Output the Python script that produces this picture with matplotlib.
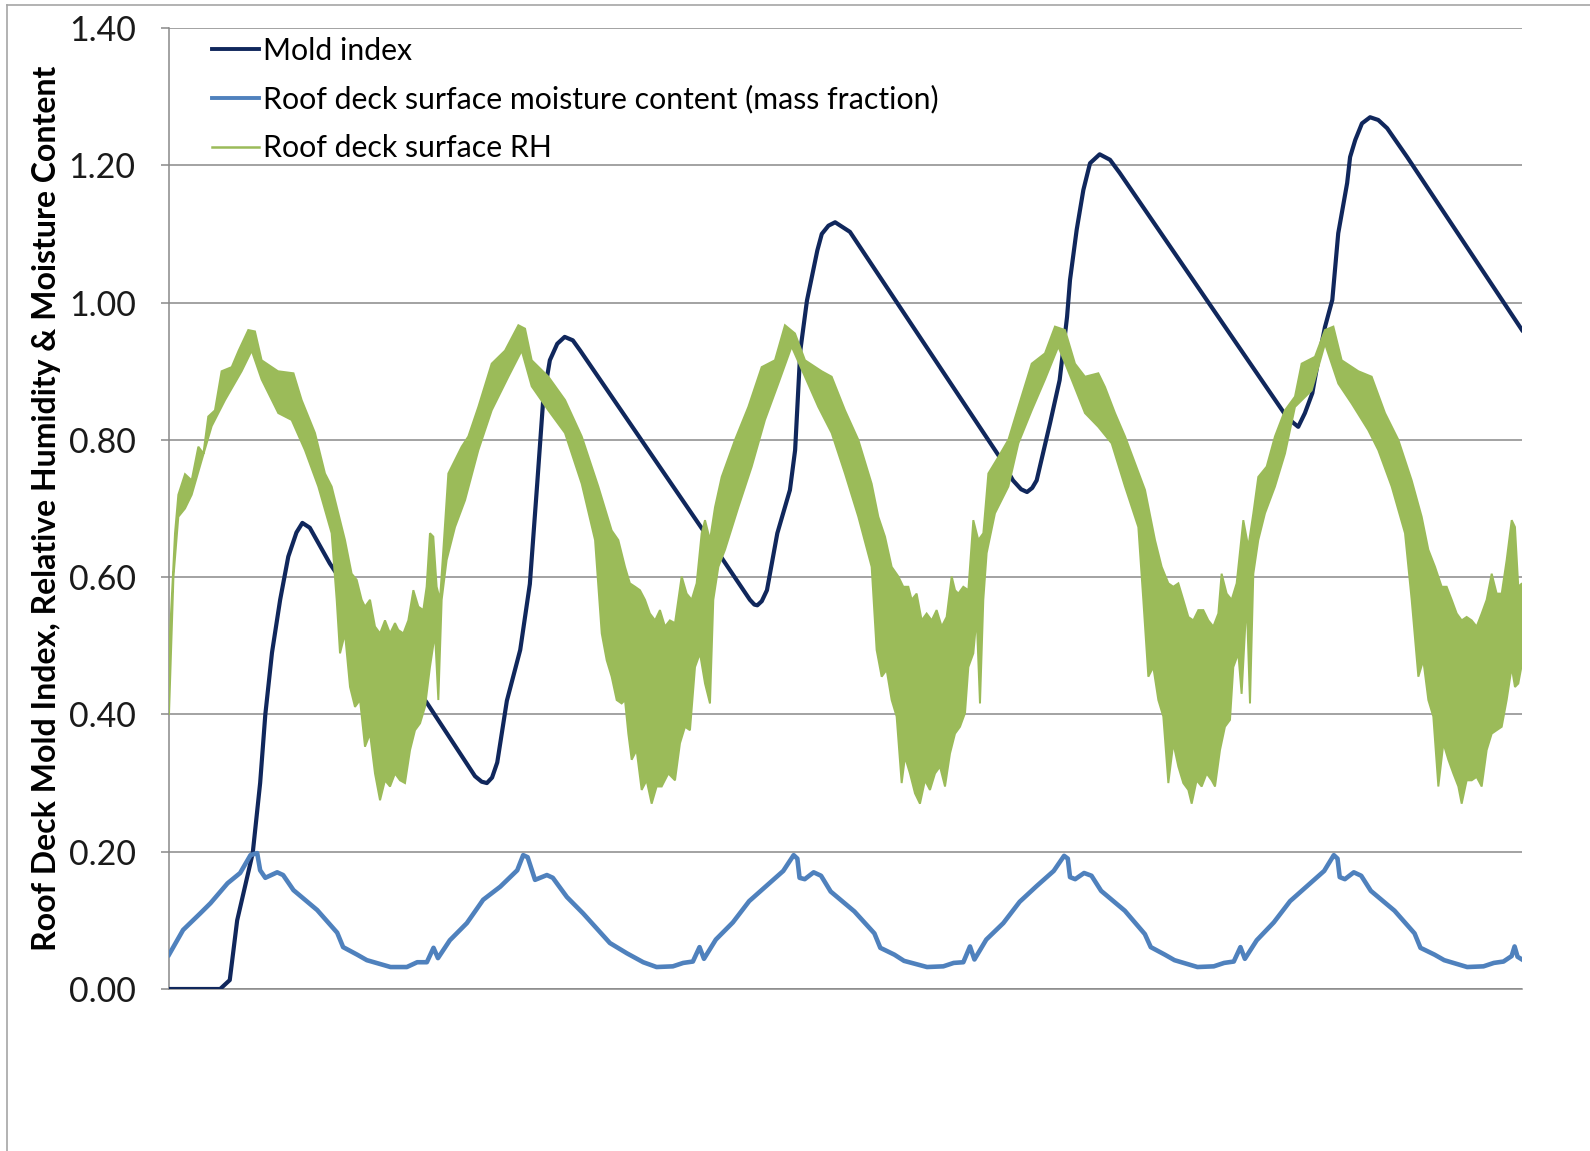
import matplotlib
matplotlib.use("Agg")
import matplotlib.pyplot as plt
from matplotlib.lines import Line2D

plt.rcParams['font.family'] = ['Lato', 'DejaVu Sans']

# x axis: days over five simulated years
mold_day = [0, 69, 82, 92, 113, 123, 130, 139, 150, 161, 172, 180, 190, 217, 262, 285, 348, 413, 422, 429,
            436, 443, 456, 474, 487, 497, 505, 514, 524, 534, 545, 555, 721, 784, 790, 794, 800, 807, 821,
            838, 845, 852, 861, 875, 881, 890, 899, 919, 1121, 1139, 1150, 1158, 1165, 1171, 1189, 1202,
            1212, 1216, 1225, 1234, 1243, 1256, 1270, 1283, 1505, 1516, 1524, 1533, 1543, 1551, 1560, 1570,
            1578, 1590, 1594, 1601, 1610, 1621, 1632, 1644, 1671, 1826]
mold_val = [0, 0, 0.013, 0.10, 0.198, 0.30, 0.40, 0.49, 0.567, 0.63, 0.665, 0.679, 0.672, 0.62, 0.547, 0.508,
            0.417, 0.31, 0.302, 0.30, 0.308, 0.33, 0.42, 0.494, 0.59, 0.737, 0.858, 0.916, 0.94, 0.95, 0.945,
            0.93, 0.668, 0.567, 0.56, 0.559, 0.565, 0.581, 0.664, 0.727, 0.785, 0.93, 1.003, 1.076, 1.10,
            1.112, 1.117, 1.103, 0.775, 0.741, 0.728, 0.724, 0.73, 0.741, 0.824, 0.887,
            0.979, 1.033, 1.106, 1.164, 1.203, 1.216, 1.208, 1.189, 0.839, 0.826, 0.819, 0.839, 0.868, 0.916,
            0.964, 1.004, 1.101, 1.174, 1.212, 1.237, 1.261, 1.27, 1.266, 1.254, 1.212, 0.96]

moist_day = [0, 19, 42, 56, 79, 96, 110, 119, 123, 130, 146, 154, 168, 200, 227, 235, 254, 267, 299, 321,
             335, 348, 357, 363, 379, 402, 424, 447, 470, 478,
             484, 494, 510, 518, 537, 559, 595, 618, 640, 658, 680, 694, 707, 716, 722, 738, 761, 783, 806,
             829, 843,
             848, 851, 858, 870, 880, 893, 925, 952, 960, 979, 992, 1023, 1045, 1059, 1072, 1081, 1087, 1103,
             1126, 1148, 1171, 1194, 1208,
             1213, 1216, 1223, 1235, 1245, 1258, 1290, 1317, 1325, 1344, 1357, 1388, 1410, 1424, 1437, 1446,
             1452, 1468, 1491, 1513, 1536, 1559, 1572,
             1577, 1580, 1587, 1599, 1609, 1622, 1654, 1681, 1689, 1708, 1721, 1752, 1774, 1788, 1801, 1812,
             1816, 1820, 1826]
moist_val = [0.05, 0.086, 0.11, 0.125, 0.154, 0.169, 0.195, 0.198, 0.173, 0.162, 0.17, 0.166, 0.144, 0.115,
             0.082, 0.061, 0.05, 0.042, 0.032, 0.032, 0.039, 0.039, 0.06, 0.045, 0.071, 0.096, 0.13, 0.149,
             0.173, 0.195,
             0.192, 0.159, 0.166, 0.162, 0.134, 0.11, 0.067, 0.052, 0.039, 0.032, 0.033, 0.038, 0.04, 0.061,
             0.044, 0.072, 0.097, 0.128, 0.15, 0.172, 0.195,
             0.19, 0.162, 0.16, 0.17, 0.165, 0.142, 0.113, 0.081, 0.06, 0.05, 0.041, 0.032, 0.033, 0.038,
             0.039, 0.062, 0.043, 0.072, 0.096, 0.127, 0.15, 0.172, 0.194,
             0.19, 0.163, 0.16, 0.169, 0.165, 0.143, 0.114, 0.08, 0.061, 0.05, 0.042, 0.032, 0.033, 0.038,
             0.04, 0.061, 0.044, 0.071, 0.097, 0.128, 0.15, 0.172, 0.195,
             0.19, 0.163, 0.16, 0.17, 0.165, 0.143, 0.114, 0.081, 0.06, 0.05, 0.042, 0.032, 0.033, 0.038,
             0.04, 0.048, 0.062, 0.047, 0.043]

# RH is hourly and noisy: (day, value) points on the upper and lower edge of the band
rh_upper = [
    (0, 0.45), (1.4, 0.52), (3.6, 0.566), (8.1, 0.664), (12.6, 0.72), (21.6, 0.75), (30.6, 0.741),
    (39.6, 0.79), (46.4, 0.78), (53, 0.834), (62, 0.843), (71, 0.90), (84.6, 0.906), (94, 0.93),
    (107, 0.96), (116, 0.958), (125, 0.916), (147, 0.90), (168, 0.897), (179, 0.858), (197, 0.81),
    (210.5, 0.751), (219.5, 0.732), (228.5, 0.693), (237.5, 0.654), (246.5, 0.605), (253.3, 0.596),
    (260, 0.567), (264.5, 0.557), (271.3, 0.567), (278, 0.528), (284.8, 0.518), (291.5, 0.537),
    (298.3, 0.518), (305, 0.533), (309.5, 0.523), (316.3, 0.518), (323, 0.537), (329.8, 0.581),
    (336.5, 0.557), (343.2, 0.552), (347.7, 0.586), (352.2, 0.664), (356.7, 0.659), (361.2, 0.586),
    (365.7, 0.567), (370.2, 0.639), (377, 0.751), (395, 0.79), (404, 0.805), (417.5, 0.848),
    (435.5, 0.911), (453.5, 0.93), (471.5, 0.967), (480.5, 0.962), (489.5, 0.916), (512, 0.892),
    (534.5, 0.858), (557, 0.805), (579.4, 0.732), (588.4, 0.70), (597.4, 0.668), (606.4, 0.654),
    (615.4, 0.615), (622, 0.591), (629, 0.586), (635.6, 0.581), (642.4, 0.567), (649, 0.547),
    (656, 0.537), (662.6, 0.552), (669.4, 0.528), (676, 0.537), (682.9, 0.533), (691.9, 0.601),
    (698.6, 0.576), (705.4, 0.567), (712.1, 0.591), (718.9, 0.664), (723.4, 0.683), (730.1, 0.654),
    (736.9, 0.702), (745.9, 0.746), (763.9, 0.80), (781.9, 0.848), (799.9, 0.906), (817.8, 0.916),
    (831.3, 0.967), (844.8, 0.955), (858.3, 0.916), (880.8, 0.90), (894.3, 0.892), (912.3, 0.843),
    (930.3, 0.80), (948.3, 0.736), (957.3, 0.688), (966.3, 0.659), (975.3, 0.615), (984.3, 0.601),
    (991, 0.586), (997.8, 0.586), (1002.3, 0.567), (1009, 0.576), (1015.8, 0.537), (1022.5, 0.547),
    (1029.3, 0.537), (1036, 0.552), (1042.8, 0.528), (1049.5, 0.542), (1056.3, 0.601), (1060.8, 0.581),
    (1065.3, 0.576), (1072, 0.586), (1078.8, 0.581), (1085.5, 0.683), (1092.3, 0.654), (1099, 0.664),
    (1105.8, 0.751), (1119.3, 0.775), (1132.8, 0.80), (1146.3, 0.848), (1164.3, 0.911), (1182.2, 0.926),
    (1195.7, 0.965), (1209.2, 0.96), (1222.7, 0.911), (1236.2, 0.892), (1254.2, 0.897), (1263.2, 0.877),
    (1276.7, 0.839), (1290.2, 0.805), (1303.7, 0.766), (1317.2, 0.727), (1330.7, 0.654), (1339.7, 0.615),
    (1348.7, 0.591), (1355.4, 0.586), (1362.2, 0.591), (1368.9, 0.567), (1375.7, 0.542), (1382.4, 0.537),
    (1389.2, 0.552), (1395.9, 0.552), (1402.7, 0.537), (1409.4, 0.528), (1416.2, 0.547), (1420.6, 0.605),
    (1427.4, 0.576), (1434.1, 0.567), (1440.9, 0.591), (1449.9, 0.683), (1456.6, 0.644), (1463.4, 0.693),
    (1470.1, 0.746), (1481.4, 0.761), (1492.6, 0.805), (1506.1, 0.843), (1519.6, 0.863), (1528.6, 0.911),
    (1546.6, 0.921), (1560.1, 0.96), (1571.4, 0.965), (1582.6, 0.916), (1605.1, 0.90), (1623.1, 0.892),
    (1641.1, 0.839), (1659.1, 0.80), (1677.1, 0.741), (1690.6, 0.688), (1699.6, 0.64), (1708.6, 0.615),
    (1717.6, 0.586), (1724.3, 0.586), (1731.1, 0.567), (1737.9, 0.547), (1744.6, 0.537), (1751.3, 0.542),
    (1758.1, 0.537), (1764.8, 0.528), (1771.6, 0.547), (1778.3, 0.567), (1785.1, 0.605), (1791.8, 0.576),
    (1798.6, 0.576), (1805.3, 0.625), (1812.1, 0.683), (1816.5, 0.673), (1821, 0.586), (1826, 0.591)]

rh_lower = [
    (0, 0.40), (6, 0.60), (12.6, 0.688), (21.6, 0.70), (30.6, 0.72), (44, 0.77), (57.6, 0.82),
    (75.6, 0.858), (98, 0.90), (111.6, 0.93), (125, 0.888), (147.5, 0.839), (165.5, 0.829),
    (183.5, 0.785), (201.5, 0.732), (219.5, 0.664), (226.3, 0.567), (230.8, 0.489), (237.5, 0.518),
    (244.3, 0.44), (251, 0.411), (257.8, 0.421), (264.5, 0.353), (271.3, 0.372), (278, 0.314),
    (284.8, 0.275), (291.5, 0.304), (298.3, 0.295), (305, 0.314), (311.8, 0.304), (318.5, 0.30),
    (325.3, 0.348), (332, 0.377), (338.8, 0.387), (345.5, 0.411), (352.2, 0.469), (359, 0.518),
    (363.5, 0.421), (368, 0.567), (374.7, 0.625), (386, 0.673), (399.5, 0.712), (417.5, 0.785),
    (435.5, 0.843), (458, 0.892), (476, 0.93), (489.5, 0.878), (512, 0.843), (534.4, 0.81),
    (557, 0.736), (575, 0.654), (584, 0.518), (590.7, 0.479), (597.4, 0.455), (604.2, 0.421),
    (610.9, 0.416), (615.4, 0.421), (619.9, 0.372), (624.4, 0.334), (631.1, 0.348), (637.9, 0.29),
    (644.6, 0.304), (651.4, 0.27), (658.1, 0.295), (664.9, 0.295), (673.9, 0.314), (682.9, 0.304),
    (689.6, 0.358), (696.4, 0.382), (703.1, 0.377), (709.9, 0.469), (716.6, 0.489), (723.4, 0.445),
    (730.1, 0.416), (734.6, 0.567), (741.4, 0.615), (750.4, 0.64), (768.4, 0.702), (786.4, 0.761),
    (804.3, 0.829), (822.3, 0.882), (840.3, 0.936), (858.3, 0.892), (876.3, 0.848), (894.3, 0.81),
    (912.3, 0.751), (930.3, 0.688), (948.3, 0.615), (955, 0.494), (961.8, 0.455), (968.5, 0.465),
    (975.3, 0.421), (982, 0.397), (988.8, 0.30), (993.3, 0.338), (1000, 0.314), (1006.8, 0.285),
    (1013.5, 0.27), (1020.3, 0.304), (1027, 0.29), (1033.8, 0.314), (1040.5, 0.324), (1047.3, 0.295),
    (1054, 0.343), (1060.8, 0.372), (1067.5, 0.382), (1074.3, 0.402), (1078.8, 0.469), (1085.5, 0.489),
    (1090, 0.542), (1094.5, 0.416), (1099, 0.567), (1103.5, 0.635), (1114.7, 0.693), (1132.8, 0.732),
    (1146.3, 0.795), (1164.3, 0.843), (1182.2, 0.888), (1200.2, 0.936), (1218.2, 0.888), (1236.2, 0.839),
    (1254.2, 0.819), (1272.2, 0.795), (1290.2, 0.732), (1308.2, 0.673), (1314.9, 0.567), (1321.7, 0.455),
    (1328.4, 0.469), (1335.2, 0.421), (1341.9, 0.397), (1348.7, 0.30), (1355.4, 0.358), (1362.2, 0.324),
    (1368.9, 0.30), (1375.7, 0.29), (1380.2, 0.27), (1386.9, 0.304), (1393.7, 0.295), (1400.4, 0.314),
    (1407.2, 0.304), (1411.7, 0.295), (1418.4, 0.348), (1425.1, 0.382), (1431.9, 0.392), (1436.4, 0.469),
    (1443.1, 0.489), (1447.6, 0.43), (1454.4, 0.567), (1458.9, 0.416), (1463.4, 0.605), (1470.1, 0.654),
    (1479.1, 0.693), (1492.6, 0.732), (1506.1, 0.78), (1519.6, 0.848), (1542.1, 0.872), (1560.1, 0.94),
    (1578.1, 0.882), (1596.1, 0.853), (1618.6, 0.814), (1632.1, 0.785), (1650.1, 0.732), (1668.1, 0.664),
    (1677.1, 0.567), (1686.1, 0.455), (1692.8, 0.479), (1699.6, 0.421), (1706.3, 0.397), (1713.1, 0.295),
    (1719.9, 0.358), (1726.6, 0.334), (1733.3, 0.314), (1740.1, 0.295), (1744.6, 0.27), (1751.3, 0.304),
    (1758.1, 0.304), (1764.8, 0.309), (1771.6, 0.295), (1778.3, 0.348), (1785.1, 0.372), (1791.8, 0.377),
    (1798.6, 0.382), (1805.3, 0.421), (1812.1, 0.469), (1816.5, 0.44), (1821, 0.445), (1826, 0.474)]

y_ticks = [0.0, 0.2, 0.4, 0.6, 0.8, 1.0, 1.2, 1.4]

c_mold = '#10275C'
c_moist = '#4F81BD'
c_rh = '#9BBB59'
c_grid = '#898989'

fig = plt.figure(figsize=(15.9, 11.51), dpi=100)
ax = fig.add_axes([169 / 1590, 1 - 989 / 1151, (1522 - 169) / 1590, (989 - 28) / 1151])

ax.plot(mold_day, mold_val, color=c_mold, lw=3.0, zorder=3, solid_joinstyle='round')
ax.plot(moist_day, moist_val, color=c_moist, lw=3.3, zorder=4, solid_joinstyle='round')

# band outline: along the top edge, back along the bottom edge
band = rh_upper + rh_lower[::-1]
ax.fill([p[0] for p in band], [p[1] for p in band], color=c_rh, lw=1.4, zorder=5)

ax.set_xlim(0, 1826)
ax.set_ylim(0, 1.4)
ax.set_yticks(y_ticks)
ax.set_yticklabels(['%.2f' % v for v in y_ticks])
ax.set_xticks([])
ax.yaxis.grid(True, color=c_grid, lw=1.1)
ax.set_axisbelow(True)
for s in ['top', 'right']:
    ax.spines[s].set_visible(False)
ax.spines['left'].set_color(c_grid)
ax.spines['bottom'].set_color(c_grid)
ax.spines['left'].set_linewidth(1.1)
ax.spines['bottom'].set_linewidth(1.1)
ax.tick_params(axis='y', direction='out', length=6, width=1.1, color=c_grid,
               labelsize=24.5, pad=18, labelcolor='#1A1A1A')

ax.set_ylabel('Roof Deck Mold Index, Relative Humidity & Moisture Content',
              fontsize=23, fontweight='bold')
ax.yaxis.set_label_coords(-0.080, 0.5)

handles = [Line2D([], [], color=c_mold, lw=2.8),
           Line2D([], [], color=c_moist, lw=2.8),
           Line2D([], [], color=c_rh, lw=1.8)]
labels = ['Mold index',
          'Roof deck surface moisture content (mass fraction)',
          'Roof deck surface RH']
ax.legend(handles, labels, loc='upper left', bbox_to_anchor=(0.032, 0.991), frameon=False,
          fontsize=21.8, handlelength=1.55, handletextpad=0.12, labelspacing=0.68,
          borderpad=0, borderaxespad=0)

# thin frame around the picture (left and top edges only are visible)
fig.add_artist(Line2D([7 / 1590, 7 / 1590], [0, 1 - 5 / 1151], color='#A6A6A6', lw=1.2))
fig.add_artist(Line2D([7 / 1590, 1], [1 - 5 / 1151, 1 - 5 / 1151], color='#A6A6A6', lw=1.2))

fig.savefig('out.png', dpi=100)
